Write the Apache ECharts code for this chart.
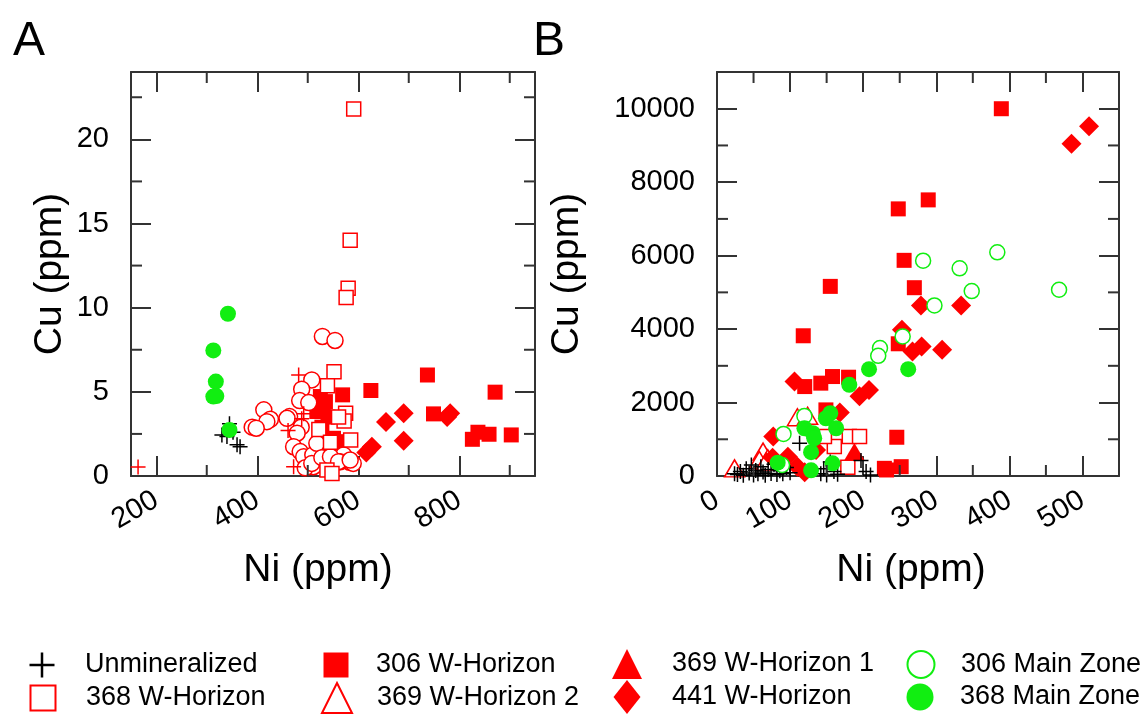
<!DOCTYPE html>
<html>
<head>
<meta charset="utf-8">
<script src="https://cdn.jsdelivr.net/npm/echarts@6/dist/echarts.min.js"></script>
<style>
  html, body { margin: 0; padding: 0; background: #fff; }
  #chart { width: 1144px; height: 714px; }
</style>
</head>
<body>
<div id="chart"></div>
<script>
// ---------- Panel A samples: [Ni (ppm), Cu (ppm)] ----------
const A_UNMINERALIZED = [[345, 3.1], [340, 2.34], [360, 1.85], [366, 1.74], [330, 2.44], [352, 2.6]];
const A_306_W = [[569, 4.82], [625, 5.08], [737, 6.0], [749, 3.69], [871, 4.98], [826, 2.18], [837, 2.6],
  [859, 2.48], [903, 2.44], [525, 4.72], [531, 4.13], [518, 3.83], [535, 4.42], [551, 2.24], [561, 2.04],
  [540, 3.5], [528, 2.9]];
const A_441_W = [[655, 3.21], [690, 3.73], [782, 3.73], [776, 3.5], [690, 2.1], [627, 1.74], [616, 1.39]];
const A_CIRCLES = [[529, 8.29], [554, 8.05], [508, 5.71], [488, 5.16], [484, 4.48], [502, 4.36], [413, 3.93],
  [426, 3.37], [419, 3.23], [390, 2.9], [398, 2.84], [464, 3.53], [459, 3.43], [487, 2.9], [479, 2.54],
  [472, 1.74], [485, 1.45], [492, 1.15], [510, 1.25], [530, 1.11], [538, 1.19], [571, 1.25], [583, 0.82],
  [590, 0.75], [564, 0.85], [511, 0.55], [495, 0.49], [545, 0.55], [518, 1.94], [508, 0.75], [528, 1.09],
  [545, 1.15], [561, 0.85], [584, 0.95]];
const A_368_W = [[591, 21.8], [584, 14.0], [580, 11.15], [576, 10.6], [552, 6.2], [539, 5.36], [575, 3.73],
  [572, 3.27], [522, 2.76], [585, 2.14], [561, 3.5], [545, 2.0], [538, 0.36], [548, 0.15]];
const A_PLUS_RED = [[164, 0.54], [482, 6.0], [492, 3.7], [461, 2.7], [472, 0.55], [488, 3.4]];
const A_368_MAIN = [[342, 9.64], [313, 7.46], [318, 5.61], [313, 4.72], [319, 4.75], [345, 2.74]];

// ---------- Panel B samples: [Ni (ppm), Cu (ppm)] ----------
const B_369_W2 = [[24, 209], [110, 1600], [124, 1640], [63, 664], [69.5, 482], [58, 436], [67, 390]];
const B_306_W = [[389, 10000], [248, 7273], [289, 7518], [256, 5872], [270, 5127], [155, 5163], [118, 3818],
  [248, 3600], [120, 2435], [142, 2528], [158, 2708], [180, 2690], [149, 1800], [246, 1055], [232, 164],
  [252, 254], [229, 209]];
const B_441_W = [[509, 9526], [485, 9045], [279, 4645], [334, 4645], [253, 3982], [267.5, 3390], [280, 3527],
  [308, 3436], [106, 2572], [208, 2340], [195, 2170], [168, 1730], [77, 1073], [76, 500], [97, 527],
  [135.5, 709], [110, 250], [120, 100]];
const B_369_W1 = [[188, 664]];
const B_368_W = [[181, 1073], [195, 1073], [160.5, 800], [147, 1073], [179, 236]];
const B_UNMINERALIZED = [[24, 60], [28, 40], [32, 120], [36, 20], [40, 200], [44, 80], [47, 300], [50, 30],
  [53, 150], [56, 60], [60, 250], [63, 110], [66, 20], [70, 180], [74, 70], [78, 320], [82, 40], [86, 140],
  [90, 60], [95, 230], [100, 90], [113, 890], [142, 60], [146, 200], [150, 30], [155, 380], [160, 120],
  [165, 50], [197, 420], [204, 120], [210, 30]];
const B_306_MAIN = [[282, 5863], [332, 5654], [348.5, 5036], [383.5, 6090], [468, 5072], [297.5, 4645],
  [223, 3482], [220.6, 3272], [254, 3800], [119.6, 1636], [91, 1145], [89, 300]];
const B_368_MAIN = [[181, 2482], [208, 2909], [261.6, 2909], [155, 1709], [149, 1573], [163, 1300],
  [119.6, 1300], [131, 1164], [128.7, 650], [83, 364], [158, 345], [128.7, 155], [133, 1027]];

// ---------- Axis ticks ----------
const A_X_LABELS = [200, 400, 600, 800];
const A_X_MINOR = [300, 500, 700, 900];
const A_Y_LABELS = [0, 5, 10, 15, 20];
const A_Y_MINOR = [2.5, 7.5, 12.5, 17.5, 22.5];
const B_X_LABELS = [0, 100, 200, 300, 400, 500];
const B_X_MINOR = [50, 150, 250, 350, 450];
const B_Y_LABELS = [0, 2000, 4000, 6000, 8000, 10000];
const B_Y_MINOR = [1000, 3000, 5000, 7000, 9000];

// ---------- Legend layout (column-major, two rows) ----------
const LEGEND_COLUMNS = [
  ['Unmineralized', '368 W-Horizon'],
  ['306 W-Horizon', '369 W-Horizon 2'],
  ['369 W-Horizon 1', '441 W-Horizon'],
  ['306 Main Zone', '368 Main Zone']
];

const RED = '#ff0000';
const GREEN = '#11ee11';
const INK = '#333333';
const FONT = "'Liberation Sans', Arial, sans-serif";
const PLUS = 'path://M9,0H11V9H20V11H11V20H9V11H0V9H9Z';

const chart = echarts.init(document.getElementById('chart'), null, { renderer: 'canvas' });

const plain = v => String(v);

function xAxes(grid, min, max, labels) {
  const base = {
    type: 'value', gridIndex: grid, min: min, max: max,
    splitLine: { show: false },
    axisLine: { show: true, onZero: false, lineStyle: { color: INK, width: 2 } },
    axisTick: { show: true, inside: true, length: 20, customValues: labels, lineStyle: { color: INK, width: 2 } }
  };
  return [
    Object.assign({}, base, {
      position: 'bottom',
      axisLabel: { show: true, customValues: labels, formatter: plain, rotate: 30, margin: 22,
        fontSize: 29, color: '#000', fontFamily: FONT }
    }),
    Object.assign({}, base, { position: 'top', axisLabel: { show: false } })
  ];
}

function yAxes(grid, min, max, labels) {
  const base = {
    type: 'value', gridIndex: grid, min: min, max: max,
    splitLine: { show: false },
    axisLine: { show: true, onZero: false, lineStyle: { color: INK, width: 2 } },
    axisTick: { show: true, inside: true, length: 20, customValues: labels, lineStyle: { color: INK, width: 2 } }
  };
  return [
    Object.assign({}, base, {
      position: 'left',
      axisLabel: { show: true, customValues: labels, formatter: plain, margin: 22,
        fontSize: 29, color: '#000', fontFamily: FONT }
    }),
    Object.assign({}, base, { position: 'right', axisLabel: { show: false } })
  ];
}

// Short ticks between the labelled ones, drawn on all four sides of a grid.
function minorTicks(xIdx, yIdx, xMin, yMin, xs, ys) {
  const data = xs.map(v => [v, yMin, 0]).concat(ys.map(v => [xMin, v, 1]));
  return {
    type: 'custom', xAxisIndex: xIdx, yAxisIndex: yIdx, silent: true, z: 5,
    data: data,
    renderItem: function (params, api) {
      const cs = params.coordSys;
      const p = api.coord([api.value(0), api.value(1)]);
      const st = { stroke: INK, lineWidth: 2 };
      const L = 11;
      if (api.value(2) === 0) {
        return { type: 'group', children: [
          { type: 'line', shape: { x1: p[0], y1: cs.y + cs.height, x2: p[0], y2: cs.y + cs.height - L }, style: st },
          { type: 'line', shape: { x1: p[0], y1: cs.y, x2: p[0], y2: cs.y + L }, style: st }
        ] };
      }
      return { type: 'group', children: [
        { type: 'line', shape: { x1: cs.x, y1: p[1], x2: cs.x + L, y2: p[1] }, style: st },
        { type: 'line', shape: { x1: cs.x + cs.width, y1: p[1], x2: cs.x + cs.width - L, y2: p[1] }, style: st }
      ] };
    }
  };
}

// Marker style per group; "key" is the legend icon box [width, height].
const STYLE = {
  'Unmineralized': { symbol: PLUS, symbolSize: 15, key: [25, 25], itemStyle: { color: '#000' } },
  '368 W-Horizon': { symbol: 'rect', symbolSize: 14, key: [25, 25], itemStyle: { color: '#fff', borderColor: RED, borderWidth: 1.5 } },
  '306 W-Horizon': { symbol: 'rect', symbolSize: 15, key: [25, 25], itemStyle: { color: RED } },
  '369 W-Horizon 2': { symbol: 'triangle', symbolSize: [20, 17], key: [30, 30], itemStyle: { color: '#fff', borderColor: RED, borderWidth: 1.5 } },
  '369 W-Horizon 1': { symbol: 'triangle', symbolSize: [20, 17], key: [30, 30], itemStyle: { color: RED } },
  '441 W-Horizon': { symbol: 'diamond', symbolSize: 20, key: [27, 34], itemStyle: { color: RED } },
  '306 Main Zone': { symbol: 'circle', symbolSize: 15, key: [27, 28], itemStyle: { color: '#fff', borderColor: GREEN, borderWidth: 1.5 } },
  '368 Main Zone': { symbol: 'circle', symbolSize: 16, key: [27, 28], itemStyle: { color: GREEN } },
  'W-Horizon circles': { symbol: 'circle', symbolSize: 16, itemStyle: { color: '#fff', borderColor: RED, borderWidth: 1.5 } },
  'W-Horizon crosses': { symbol: PLUS, symbolSize: 15, itemStyle: { color: RED } }
};

function scatter(name, data, xIdx, yIdx) {
  const s = STYLE[name];
  return {
    type: 'scatter', name: name, data: data, xAxisIndex: xIdx, yAxisIndex: yIdx, silent: true, z: 3,
    symbol: s.symbol, symbolSize: s.symbolSize,
    itemStyle: Object.assign({ opacity: 1 }, s.itemStyle)
  };
}

const series = [
  // panel A
  scatter('Unmineralized', A_UNMINERALIZED, 0, 0),
  scatter('306 W-Horizon', A_306_W, 0, 0),
  scatter('441 W-Horizon', A_441_W, 0, 0),
  scatter('W-Horizon circles', A_CIRCLES, 0, 0),
  scatter('368 W-Horizon', A_368_W, 0, 0),
  scatter('W-Horizon crosses', A_PLUS_RED, 0, 0),
  scatter('368 Main Zone', A_368_MAIN, 0, 0),
  // panel B
  scatter('369 W-Horizon 2', B_369_W2, 2, 2),
  scatter('306 W-Horizon', B_306_W, 2, 2),
  scatter('441 W-Horizon', B_441_W, 2, 2),
  scatter('369 W-Horizon 1', B_369_W1, 2, 2),
  scatter('368 W-Horizon', B_368_W, 2, 2),
  scatter('Unmineralized', B_UNMINERALIZED, 2, 2),
  scatter('306 Main Zone', B_306_MAIN, 2, 2),
  scatter('368 Main Zone', B_368_MAIN, 2, 2),
  minorTicks(0, 0, 150, 0, A_X_MINOR, A_Y_MINOR),
  minorTicks(2, 2, 0, 0, B_X_MINOR, B_Y_MINOR)
];

// One legend entry per component so every entry sits exactly in its cell.
const ICON_CENTER_X = [42, 336, 627, 920];
const TEXT_LEFT = [85, 376, 672, 960];
const ROW_CENTER_Y = [664, 697];
const legends = [];
LEGEND_COLUMNS.forEach((col, c) => {
  col.forEach((name, r) => {
    const [w, h] = STYLE[name].key;
    const left = ICON_CENTER_X[c] - w / 2;
    legends.push({
      orient: 'horizontal', left: left, top: ROW_CENTER_Y[r] - h / 2, padding: 0,
      itemWidth: w, itemHeight: h, selectedMode: false, data: [name],
      textStyle: { fontSize: 27, lineHeight: h, color: '#000', fontFamily: FONT,
        padding: [0, 0, 0, TEXT_LEFT[c] - left - w - 5] }
    });
  });
});

function label(text, x, y, size, rot) {
  return {
    type: 'text', x: x, y: y, rotation: rot || 0,
    style: { text: text, fontSize: size, fontFamily: FONT, fill: '#000', align: 'center', verticalAlign: 'middle' }
  };
}

chart.setOption({
  animation: false,
  backgroundColor: '#fff',
  grid: [
    { left: 131, top: 72, width: 404, height: 404 },
    { left: 717, top: 72, width: 402, height: 404 }
  ],
  xAxis: xAxes(0, 150, 950, A_X_LABELS).concat(xAxes(1, 0, 550, B_X_LABELS)),
  yAxis: yAxes(0, 0, 24, A_Y_LABELS).concat(yAxes(1, 0, 11000, B_Y_LABELS)),
  legend: legends,
  graphic: [
    label('A', 29, 42, 48),
    label('B', 549, 42, 48),
    label('Cu (ppm)', 50, 274, 39, Math.PI / 2),
    label('Cu (ppm)', 567, 274, 39, Math.PI / 2),
    label('Ni (ppm)', 318, 570, 39),
    label('Ni (ppm)', 911, 570, 39)
  ],
  series: series
});
</script>
</body>
</html>
